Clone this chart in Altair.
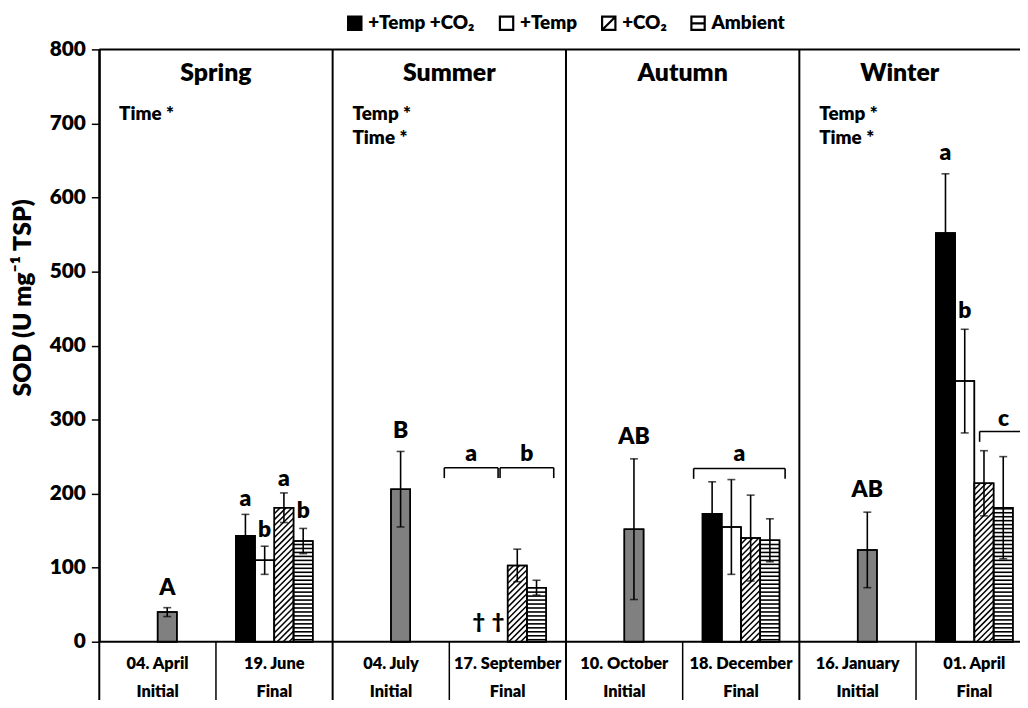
import altair as alt
import pandas as pd

# ---------------- data ----------------
dates = ["04. April", "19. June", "04. July", "17. September",
         "10. October", "18. December", "16. January", "01. April"]
phases = ["Initial", "Final", "Initial", "Final", "Initial", "Final", "Initial", "Final"]
seasons = ["Spring", "Summer", "Autumn", "Winter"]
season_title_x = [1.0, 3.0, 5.0, 6.86]
stats_panel = [0, 2, 2, 6, 6]
stats_line = [0, 0, 1, 0, 1]
stats_text = ["Time *", "Temp *", "Time *", "Temp *", "Time *"]

treatments = ["+Temp +CO₂", "+Temp", "+CO₂", "Ambient"]

initial_mean = [40, 206, 152, 124]
initial_err = [6, 51, 95, 51]
initial_letter = ["A", "B", "AB", "AB"]
initial_letter_y = [72, 285, 277, 205]

# final samplings: 19. June, 17. September, 18. December, 01. April
tc_mean = [143, None, 173, 552]
tc_err = [29, None, 43, 80]
t_mean = [110, None, 155, 352]
t_err = [19, None, 64, 70]
c_mean = [181, 103, 140, 214]
c_err = [20, 22, 58, 44]
a_mean = [136, 73, 137, 181]
a_err = [17, 10, 29, 69]

# letters above single final bars: (cell, slot, text, y)
bar_letter_cell = [1, 1, 1, 1, 7, 7]
bar_letter_slot = [1, 2, 3, 4, 1, 2]
bar_letter_text = ["a", "b", "a", "b", "a", "b"]
bar_letter_y = [193, 151, 220, 176, 660, 446]

# brackets: cell, start/end (fraction of cell), y, label
br_cell = [3, 3, 5, 7]
br_start = [-0.043, 0.435, 0.094, 0.545]
br_end = [0.418, 0.895, 0.878, 0.955]
br_y = [235, 235, 234, 284]
br_text = ["a", "b", "a", "c"]
br_text_y = [254, 254, 254, 301]

dagger_cell = [3, 3]
dagger_slot = [1, 2]
dagger_y = [25, 25]

# ---------------- layout ----------------
FONT = "Lato"
FW = 800
W, H = 928, 597
CELL_PX = 117.6
XMAX = W / CELL_PX
SLOT_W = 0.165
SX = W / XMAX
SY = H / 800.0

xs = alt.Scale(domain=[0, XMAX], nice=False, zero=False)
ys = alt.Scale(domain=[0, 800], nice=False)

# bars
rows = []
for i in range(4):
    rows.append(dict(cell=2 * i, slot=3, value=initial_mean[i], err=initial_err[i],
                     fill="#808080", hatch="none"))
final_means = [tc_mean, t_mean, c_mean, a_mean]
final_errs = [tc_err, t_err, c_err, a_err]
fills = ["#000000", "#ffffff", "#ffffff", "#ffffff"]
hatches = ["none", "none", "diag", "horiz"]
for j in range(4):
    for i in range(4):
        if final_means[j][i] is None:
            continue
        rows.append(dict(cell=2 * i + 1, slot=j + 1, value=final_means[j][i],
                         err=final_errs[j][i], fill=fills[j], hatch=hatches[j]))
bars = pd.DataFrame(rows)
bars["x0"] = bars.cell + 0.5 + (bars.slot - 3) * SLOT_W
bars["x1"] = bars.x0 + SLOT_W
bars["xc"] = bars.x0 + SLOT_W / 2
bars["lo"] = bars.value - bars.err
bars["hi"] = bars.value + bars.err

# hatch lines derived from the bars
diag_rows, horiz_rows = [], []
for _, b in bars.iterrows():
    u0, u1, h = b.x0 * SX, b.x1 * SX, b.value * SY
    if b.hatch == "diag":
        k = u0 - h
        while k < u1:
            ua, ub = max(u0, k), min(u1, k + h)
            if ub > ua:
                diag_rows.append(dict(xa=ua / SX, ya=(ua - k) / SY, xb=ub / SX, yb=(ub - k) / SY))
            k += 6.0
    elif b.hatch == "horiz":
        w = 2.0
        while w < h - 1:
            horiz_rows.append(dict(xa=b.x0, xb=b.x1, ya=w / SY))
            w += 4.0
diag = pd.DataFrame(diag_rows)
horiz = pd.DataFrame(horiz_rows)

bold = dict(font=FONT, fontWeight=FW, color="black")

bar_layer = alt.Chart(bars).mark_rect(stroke="black", strokeWidth=1.5).encode(
    x=alt.X("x0:Q", scale=xs, axis=None), x2="x1:Q",
    y=alt.Y("value:Q", scale=ys, axis=alt.Axis(
        values=list(range(0, 801, 100)), tickSize=8, tickWidth=1.5, tickColor="black",
        domainColor="black", domainWidth=2, labelFont=FONT, labelFontSize=21,
        labelFontWeight=FW, labelColor="black", labelPadding=6, grid=False,
        title="SOD (U mg⁻¹ TSP)", titleFont=FONT, titleFontSize=25, titleFontWeight=FW,
        titleColor="black", titleX=-77, titleY=250, titleAngle=270, titleBaseline="middle",
        titleAlign="center")),
    y2=alt.Y2(datum=0),
    fill=alt.Fill("fill:N", scale=None),
)

diag_layer = alt.Chart(diag).mark_rule(color="black", strokeWidth=1.5).encode(
    x=alt.X("xa:Q", scale=xs), x2="xb:Q", y=alt.Y("ya:Q", scale=ys), y2="yb:Q")
horiz_layer = alt.Chart(horiz).mark_rule(color="black", strokeWidth=1.6).encode(
    x=alt.X("xa:Q", scale=xs), x2="xb:Q", y=alt.Y("ya:Q", scale=ys))
outline_layer = alt.Chart(bars).mark_rect(stroke="black", strokeWidth=1.5, fillOpacity=0).encode(
    x=alt.X("x0:Q", scale=xs), x2="x1:Q", y=alt.Y("value:Q", scale=ys), y2=alt.Y2(datum=0))

err_rule = alt.Chart(bars).mark_rule(color="black", strokeWidth=1.6).encode(
    x=alt.X("xc:Q", scale=xs), y=alt.Y("lo:Q", scale=ys), y2="hi:Q")
cap_hi = alt.Chart(bars).mark_tick(orient="horizontal", size=8, thickness=1.6, color="black").encode(
    x=alt.X("xc:Q", scale=xs), y=alt.Y("hi:Q", scale=ys))
cap_lo = alt.Chart(bars).mark_tick(orient="horizontal", size=8, thickness=1.6, color="black").encode(
    x=alt.X("xc:Q", scale=xs), y=alt.Y("lo:Q", scale=ys))

# letters
init_letters = pd.DataFrame(dict(cell=[0, 2, 4, 6], text=initial_letter, y=initial_letter_y))
init_letters["x"] = init_letters.cell + 0.5 + SLOT_W / 2
bl = pd.DataFrame(dict(cell=bar_letter_cell, slot=bar_letter_slot, text=bar_letter_text, y=bar_letter_y))
bl["x"] = bl.cell + 0.5 + (bl.slot - 3) * SLOT_W + SLOT_W / 2
br = pd.DataFrame(dict(cell=br_cell, s=br_start, e=br_end, y=br_y, text=br_text, ty=br_text_y))
br["xa"] = br.cell + br.s
br["xb"] = br.cell + br.e
br["xm"] = (br.xa + br.xb) / 2
br["ylo"] = br.y - 14
brl = pd.DataFrame(dict(x=br.xm, y=br.ty, text=br.text))
letters = pd.concat([init_letters[["x", "y", "text"]], bl[["x", "y", "text"]], brl])

letter_layer = alt.Chart(letters).mark_text(fontSize=23, baseline="middle", **bold).encode(
    x=alt.X("x:Q", scale=xs), y=alt.Y("y:Q", scale=ys), text="text:N")

br_h = alt.Chart(br).mark_rule(color="black", strokeWidth=1.6, clip=True).encode(
    x=alt.X("xa:Q", scale=xs), x2="xb:Q", y=alt.Y("y:Q", scale=ys))
br_l = alt.Chart(br).mark_rule(color="black", strokeWidth=1.6, clip=True).encode(
    x=alt.X("xa:Q", scale=xs), y=alt.Y("y:Q", scale=ys), y2="ylo:Q")
br_r = alt.Chart(br).mark_rule(color="black", strokeWidth=1.6, clip=True).encode(
    x=alt.X("xb:Q", scale=xs), y=alt.Y("y:Q", scale=ys), y2="ylo:Q")

dg = pd.DataFrame(dict(cell=dagger_cell, slot=dagger_slot, y=dagger_y))
dg["x"] = dg.cell + 0.5 + (dg.slot - 3) * SLOT_W + SLOT_W / 2
dg["t"] = "†"
dagger_layer = alt.Chart(dg).mark_text(fontSize=21, baseline="middle", **bold).encode(
    x=alt.X("x:Q", scale=xs), y=alt.Y("y:Q", scale=ys), text="t:N")

st = pd.DataFrame(dict(title=seasons, x=season_title_x))
title_layer = alt.Chart(st).mark_text(fontSize=25, baseline="middle", **bold).encode(
    x=alt.X("x:Q", scale=xs), y=alt.datum(768, scale=ys), text="title:N")

sp = pd.DataFrame(dict(panel=stats_panel, line=stats_line, text=stats_text))
sp["x"] = sp.panel + 0.17
sp["y"] = 713 - 33 * sp.line
stats_layer = alt.Chart(sp).mark_text(fontSize=19, baseline="middle", align="left", **bold).encode(
    x=alt.X("x:Q", scale=xs), y=alt.Y("y:Q", scale=ys), text="text:N")

# frame and table
long_lines = pd.DataFrame(dict(x=[0, 2, 4, 6]))
sep_layer = alt.Chart(long_lines).mark_rule(color="black", strokeWidth=2).encode(
    x=alt.X("x:Q", scale=xs), y=alt.value(0), y2=alt.value(H + 60))
short_lines = pd.DataFrame(dict(x=[1, 3, 5, 7]))
short_layer = alt.Chart(short_lines).mark_rule(color="black", strokeWidth=1.5).encode(
    x=alt.X("x:Q", scale=xs), y=alt.value(H), y2=alt.value(H + 60))
frame = pd.DataFrame(dict(y=[0, 800]))
frame_layer = alt.Chart(frame).mark_rule(color="black", strokeWidth=2).encode(
    x=alt.value(0), x2=alt.value(W), y=alt.Y("y:Q", scale=ys))

tbl = pd.DataFrame(dict(date=dates, phase=phases, cell=list(range(8))))
tbl["x"] = tbl.cell + 0.5
date_layer = alt.Chart(tbl).mark_text(fontSize=16.5, baseline="middle", **bold).encode(
    x=alt.X("x:Q", scale=xs), y=alt.value(H + 22), text="date:N")
phase_layer = alt.Chart(tbl).mark_text(fontSize=16.5, baseline="middle", **bold).encode(
    x=alt.X("x:Q", scale=xs), y=alt.value(H + 51), text="phase:N")

# legend
paths = ["M-1,-1H1V1H-1Z", "M-1,-1H1V1H-1Z", "M-1,-1H1V1H-1Z M-1,1L1,-1", "M-1,-1H1V1H-1Z M-1,0H1"]
leg = alt.Legend(title=None, orient="none", legendX=248, legendY=-36, direction="horizontal",
                 symbolSize=180, symbolStrokeColor="black", symbolStrokeWidth=2.2, symbolOpacity=1,
                 labelFont=FONT, labelFontSize=19, labelFontWeight=FW, labelColor="black",
                 labelOffset=4, columnPadding=20)
legdf = pd.DataFrame(dict(treatment=treatments))
legend_layer = alt.Chart(legdf).mark_point(filled=True, opacity=0, stroke="black").encode(
    x=alt.value(0), y=alt.value(0),
    shape=alt.Shape("treatment:N", scale=alt.Scale(domain=treatments, range=paths), legend=leg),
    fill=alt.Fill("treatment:N", scale=alt.Scale(domain=treatments,
                  range=["#000000", "#ffffff", "#ffffff", "#ffffff"]), legend=leg),
)

chart = alt.layer(
    bar_layer, diag_layer, horiz_layer, outline_layer, err_rule, cap_hi, cap_lo,
    letter_layer, br_h, br_l, br_r, dagger_layer, title_layer, stats_layer,
    sep_layer, short_layer, frame_layer, date_layer, phase_layer, legend_layer,
).properties(
    width=W, height=H,
    padding={"left": 92, "top": 39, "right": 0, "bottom": 56},
    autosize=alt.AutoSizeParams(type="none"),
    background="white",
).configure_view(stroke=None)

chart.save("out.html", embed_options={"renderer": "svg", "actions": False})
